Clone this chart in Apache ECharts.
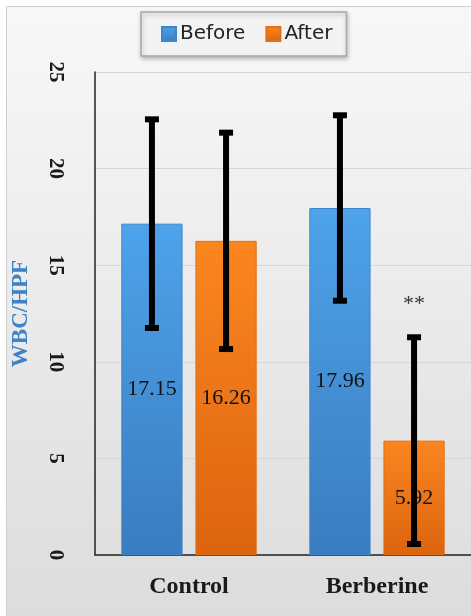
<!DOCTYPE html>
<html>
<head>
<meta charset="utf-8">
<script src="https://cdn.jsdelivr.net/npm/echarts@6/dist/echarts.min.js"></script>
<style>html,body{margin:0;padding:0;background:#fff}#c{width:471px;height:616px}</style>
</head>
<body>
<div id="c"></div>
<script>
const categories = ['Control', 'Berberine'];
const beforeValues = [17.15, 17.96];
const afterValues = [16.26, 5.92];
const beforeSD = [5.4, 4.8];
const afterSD = [5.6, 5.35];
const afterSignificance = ['', '**'];
const yTicks = [0, 5, 10, 15, 20, 25];

const chart = echarts.init(document.getElementById('c'), null, {renderer: 'canvas'});

const CAT_GAP = 0.28, BAR_GAP = 0.21;
function errItem(sign, sds, sig) {
  return function (params, api) {
    const i = api.value(0);
    const mean = api.value(1);
    const sd = sds[i];
    const band = api.size([1, 0])[0];
    const bw = band * (1 - CAT_GAP) / (2 + BAR_GAP);
    const off = sign * bw * (1 + BAR_GAP) / 2;
    const top = api.coord([i, mean + sd]);
    const bot = api.coord([i, mean - sd]);
    const x = top[0] + off;
    const st = {stroke: '#000', lineWidth: 6};
    const children = [
      {type: 'line', shape: {x1: x, y1: top[1], x2: x, y2: bot[1]}, style: st},
      {type: 'rect', shape: {x: x - 7, y: top[1] - 3, width: 14, height: 6}, style: {fill: '#000'}},
      {type: 'rect', shape: {x: x - 7, y: bot[1] - 3, width: 14, height: 6}, style: {fill: '#000'}}
    ];
    if (sig && sig[i]) {
      children.push({type: 'text', style: {text: sig[i], x: x, y: top[1] - 33, align: 'center', verticalAlign: 'middle', font: '22px "Liberation Serif", serif', fill: '#333'}});
    }
    return {type: 'group', children: children};
  };
}

function grad(c1, c2) {
  return new echarts.graphic.LinearGradient(0, 0, 0, 1, [{offset: 0, color: c1}, {offset: 1, color: c2}]);
}

const option = {
  animation: false,
  graphic: [{
    type: 'rect', z: -10, silent: true,
    shape: {x: 6.5, y: 6.5, width: 480, height: 620},
    style: {fill: grad('#f8f8f8', '#dcdcdc'), stroke: '#cfcfcf', lineWidth: 1}
  }],
  legend: {
    data: ['Before', 'After'],
    left: 141, top: 12,
    padding: [12, 14, 12, 20],
    itemWidth: 14, itemHeight: 14, itemGap: 20,
    backgroundColor: '#f3f3f3',
    borderColor: '#a9a9a9', borderWidth: 1.5,
    shadowColor: 'rgba(0,0,0,0.25)', shadowBlur: 4, shadowOffsetX: 1, shadowOffsetY: 2,
    textStyle: {fontFamily: '"DejaVu Sans", sans-serif', fontSize: 20, color: '#222', padding: [0, 0, 0, -1]},
    icon: 'rect'
  },
  grid: {left: 95, top: 72, width: 383, bottom: 61},
  xAxis: {
    type: 'category', data: categories,
    axisLine: {lineStyle: {color: '#222', width: 1.5}},
    axisTick: {show: false},
    axisLabel: {margin: 20, fontFamily: '"Liberation Serif", serif', fontWeight: 'bold', fontSize: 24, color: '#1a1a1a'}
  },
  yAxis: {
    type: 'value', min: 0, max: 25, interval: 5,
    name: 'WBC/HPF', nameLocation: 'middle', nameGap: 62,
    nameTextStyle: {fontFamily: '"Liberation Serif", serif', fontWeight: 'bold', fontSize: 23, color: '#3d82c6'},
    axisLine: {show: true, lineStyle: {color: '#222', width: 1.5}},
    axisTick: {show: false},
    splitLine: {lineStyle: {color: '#d6d6d6', width: 1}},
    axisLabel: {rotate: -90, margin: 29, fontFamily: '"Liberation Serif", serif', fontWeight: 'bold', fontSize: 21, color: '#1a1a1a',
      formatter: v => yTicks.includes(v) ? String(v) : ''}
  },
  series: [
    {
      name: 'Before', type: 'bar', data: beforeValues,
      barCategoryGap: (CAT_GAP * 100) + '%', barGap: (BAR_GAP * 100) + '%',
      itemStyle: {color: grad('#4ea3ea', '#3a7cbf'), borderColor: '#3f86c8', borderWidth: 1},
      label: {show: true, position: 'inside', fontFamily: '"Liberation Serif", serif', fontSize: 22, color: '#111'}
    },
    {
      name: 'After', type: 'bar', data: afterValues,
      itemStyle: {color: grad('#fb8620', '#dc640f'), borderColor: '#e27012', borderWidth: 1},
      label: {show: true, position: 'inside', fontFamily: '"Liberation Serif", serif', fontSize: 22, color: '#111'}
    },
    {
      type: 'custom', name: 'errBefore', z: 10,
      renderItem: errItem(-1, beforeSD, null),
      data: beforeValues.map((v, i) => [i, v]),
      encode: {x: 0, y: 1}
    },
    {
      type: 'custom', name: 'errAfter', z: 10,
      renderItem: errItem(1, afterSD, afterSignificance),
      data: afterValues.map((v, i) => [i, v]),
      encode: {x: 0, y: 1}
    }
  ]
};
chart.setOption(option);
</script>
</body>
</html>
